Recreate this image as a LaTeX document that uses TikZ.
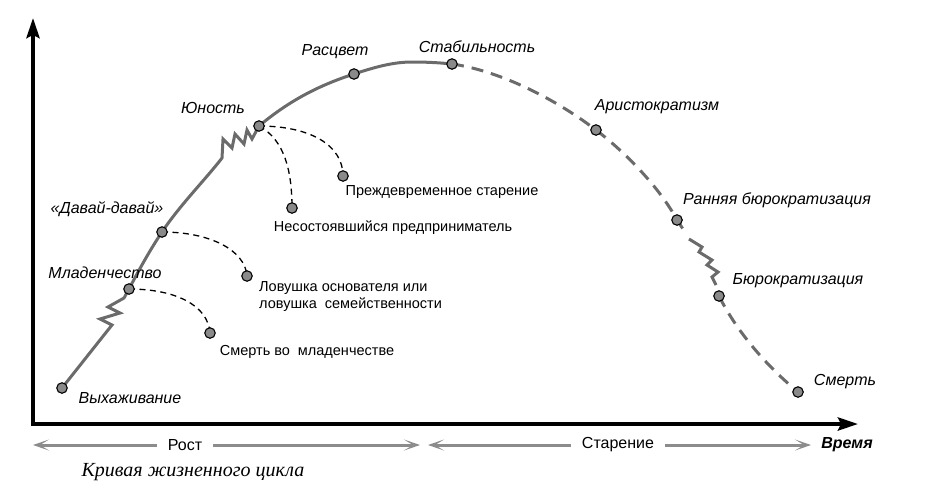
\documentclass[tikz,border=0pt]{standalone}
\usepackage{fontspec}
\setmainfont{Liberation Sans}
\newfontfamily\serifit{Liberation Serif}
\usetikzlibrary{arrows.meta}
\definecolor{curvegray}{HTML}{6B6B6B}
\definecolor{dotgray}{HTML}{8A8A8A}
\definecolor{spangray}{HTML}{8C8C8C}
\begin{document}
\begin{tikzpicture}[x=1pt,y=-1pt,
  dotnode/.style={circle, draw=black, line width=1.1pt, fill=dotgray, minimum size=10.5pt, inner sep=0pt},
  lbl/.style={font=\fontsize{16}{18}\selectfont\itshape, inner sep=0pt},
  txt/.style={font=\fontsize{14.5}{17}\selectfont, inner sep=0pt},
  curve/.style={draw=curvegray, line width=3pt, line join=miter, line cap=butt},
  curvedash/.style={draw=curvegray, line width=3pt, dash pattern=on 12pt off 8pt},
  branch/.style={draw=black, line width=1.3pt, dash pattern=on 6pt off 4.5pt},
  axis/.style={line width=4pt, {Stealth[length=20pt,width=13pt,inset=3pt]}-{Stealth[length=20pt,width=13pt,inset=3pt]}},
  span/.style={draw=spangray, line width=3pt, -{Stealth[length=16pt,width=11pt,inset=9pt]}},
  spanlbl/.style={font=\fontsize{16}{18}\selectfont, inner ysep=0pt, inner xsep=11pt}
]
\useasboundingbox (0,0) rectangle (925,491);

% axes
\coordinate (ytop) at (33,18);
\coordinate (O) at (33,424);
\coordinate (xend) at (858,424);
\draw[axis] (ytop) -- (O) -- (xend);

% curve points
\coordinate (vyh) at (62,388);
\coordinate (mlad) at (129,289);
\coordinate (davai) at (162,232);
\coordinate (yun) at (259,126);
\coordinate (rasc) at (354,74);
\coordinate (stab) at (452,64);
\coordinate (arist) at (596,130);
\coordinate (rann) at (677,220);
\coordinate (bur) at (719,296);
\coordinate (smert) at (798,392);
\coordinate (sm1) at (210,333);
\coordinate (lov) at (247,276);
\coordinate (nes) at (292,208);
\coordinate (pre) at (343,176);

% solid growth curve
\draw[curve] (vyh) -- (104,335) -- (112,325) -- (100,319) -- (120,313) -- (108,307) -- (124,298) -- (mlad)
  .. controls (140,268) and (150,250) .. (davai)
  .. controls (180,205) and (205,180) .. (222,158)
  -- (223,139) -- (232,148) -- (235,134) -- (244,144) -- (247,130) -- (252,139) -- (yun)
  .. controls (290,100) and (320,85) .. (rasc)
  .. controls (378,66) and (395,62) .. (412,62)
  .. controls (430,62) and (442,63) .. (stab);

% dashed ageing curve
\draw[curvedash] (stab) .. controls (495,70) and (550,95) .. (arist)
  .. controls (625,152) and (660,188) .. (rann) -- (683,229);
\draw[curve] (689,239) -- (702,247) -- (699,252) -- (712,260) -- (707,265) -- (718,272) -- (712,277) -- (716,285);
\draw[curvedash] (bur) .. controls (735,328) and (762,362) .. (smert);

% branches
\draw[branch] (mlad) .. controls (175,289) and (208,305) .. (sm1);
\draw[branch] (davai) .. controls (210,232) and (245,250) .. (lov);
\draw[branch] (yun) .. controls (310,126) and (343,145) .. (pre);
\draw[branch] (yun) .. controls (285,140) and (292,172) .. (nes);

% dots
\node[dotnode] (vyhD) at (vyh) {};
\node[dotnode] (mladD) at (mlad) {};
\node[dotnode] (davaiD) at (davai) {};
\node[dotnode] (yunD) at (yun) {};
\node[dotnode] (rascD) at (rasc) {};
\node[dotnode] (stabD) at (stab) {};
\node[dotnode] (aristD) at (arist) {};
\node[dotnode] (rannD) at (rann) {};
\node[dotnode] (burD) at (bur) {};
\node[dotnode] (smertD) at (smert) {};
\node[dotnode] (sm1D) at (sm1) {};
\node[dotnode] (lovD) at (lov) {};
\node[dotnode] (nesD) at (nes) {};
\node[dotnode] (preD) at (pre) {};

% stage labels
\node[lbl] (tVyh) at (130,398) {Выхаживание};
\node[lbl] (tMlad) at (105,273) {Младенчество};
\node[lbl] (tDavai) at (107,209) {«Давай-давай»};
\node[lbl] (tYun) at (213,108) {Юность};
\node[lbl] (tRasc) at (335,52) {Расцвет};
\node[lbl] (tStab) at (477,47) {Стабильность};
\node[lbl] (tArist) at (657,107) {Аристократизм};
\node[lbl] (tRann) at (777,200) {Ранняя бюрократизация};
\node[lbl] (tBur) at (798,281) {Бюрократизация};
\node[lbl] (tSmert) at (845,382) {Смерть};

% trap labels
\node[txt] (tSm1) at (307,352) {Смерть во\ \ младенчестве};
\node[txt, anchor=west, align=left] (tLov) at (259,296.5) {Ловушка основателя или\\ловушка\ \ семейственности};
\node[txt] (tNes) at (393,228) {Несостоявшийся предприниматель};
\node[txt] (tPre) at (442,192) {Преждевременное старение};

% phase spans
\coordinate (rostL) at (33,445);
\coordinate (rostR) at (420,445);
\coordinate (starL) at (428,445);
\coordinate (starR) at (811,445);
\node[spanlbl] (rost) at (185,445) {Рост};
\node[spanlbl] (star) at (618,445) {Старение};
\draw[span] (rost) -- (rostL);
\draw[span] (rost) -- (rostR);
\draw[span] (star) -- (starL);
\draw[span] (star) -- (starR);
\node[font=\fontsize{16}{18}\selectfont\bfseries\itshape, inner sep=0pt] (vremya) at (847,445) {Время};

\node[font=\serifit\itshape\fontsize{20}{23}\selectfont, inner sep=0pt] (title) at (193,472) {Кривая жизненного цикла};
\end{tikzpicture}
\end{document}
